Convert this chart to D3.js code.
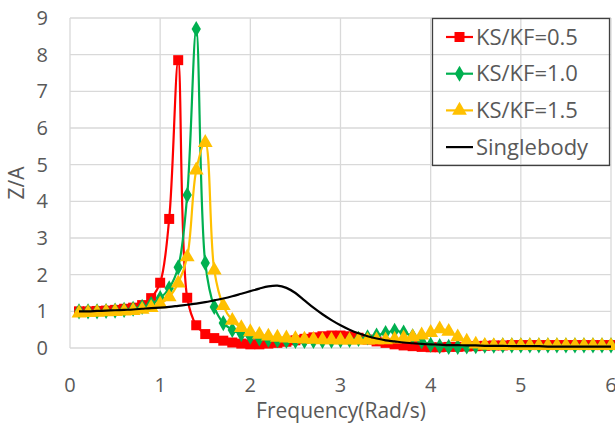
<!DOCTYPE html>
<html>
<head>
<meta charset="utf-8">
<script src="https://cdn.jsdelivr.net/npm/d3@7"></script>
<style>
  body { margin: 0; background: #fff; }
  text { font-family: "Open Sans", sans-serif; fill: #595959; }
</style>
</head>
<body>
<div id="chart"></div>
<script>
// frequencies 0.1 .. 6.0, step 0.1
const freq = d3.range(1, 61).map(d => d / 10)

const ks05 = [1.0, 1.0, 1.01, 1.02, 1.04, 1.07, 1.1, 1.17, 1.36, 1.78,
              3.52, 7.85, 1.37, 0.62, 0.38, 0.27, 0.2, 0.15, 0.12, 0.1,
              0.1, 0.12, 0.14, 0.17, 0.21, 0.25, 0.29, 0.32, 0.34, 0.34,
              0.32, 0.28, 0.23, 0.18, 0.14, 0.1, 0.07, 0.05, 0.03, 0.02,
              0.02, 0.03, 0.03, 0.04, 0.05, 0.06, 0.07, 0.07, 0.08, 0.08,
              0.08, 0.08, 0.08, 0.08, 0.08, 0.08, 0.08, 0.08, 0.08, 0.08]

const ks10 = [1.0, 1.0, 1.0, 1.01, 1.02, 1.04, 1.07, 1.12, 1.2, 1.36,
              1.63, 2.2, 4.17, 8.7, 2.32, 1.12, 0.68, 0.49, 0.38, 0.31,
              0.26, 0.23, 0.21, 0.2, 0.19, 0.19, 0.19, 0.19, 0.2, 0.21,
              0.22, 0.25, 0.29, 0.34, 0.41, 0.47, 0.42, 0.32, 0.18, 0.09,
              0.05, 0.03, 0.03, 0.04, 0.05, 0.06, 0.06, 0.07, 0.07, 0.07,
              0.07, 0.07, 0.07, 0.07, 0.07, 0.07, 0.07, 0.07, 0.07, 0.07]

const ks15 = [0.95, 0.96, 0.97, 0.98, 0.99, 1.0, 1.02, 1.05, 1.1, 1.2,
              1.39, 1.77, 2.48, 4.85, 5.6, 2.12, 1.15, 0.75, 0.55, 0.44,
              0.37, 0.32, 0.29, 0.27, 0.25, 0.24, 0.23, 0.22, 0.22, 0.21,
              0.21, 0.21, 0.21, 0.22, 0.22, 0.24, 0.27, 0.3, 0.35, 0.42,
              0.52, 0.45, 0.3, 0.18, 0.1, 0.07, 0.06, 0.06, 0.06, 0.06,
              0.06, 0.06, 0.06, 0.06, 0.06, 0.06, 0.06, 0.06, 0.06, 0.06]

const single = [1.0, 1.0, 1.01, 1.02, 1.03, 1.04, 1.05, 1.07, 1.09, 1.1,
                1.12, 1.15, 1.18, 1.21, 1.25, 1.3, 1.35, 1.41, 1.48, 1.55,
                1.62, 1.68, 1.7, 1.64, 1.5, 1.3, 1.1, 0.92, 0.76, 0.62,
                0.5, 0.4, 0.32, 0.26, 0.21, 0.18, 0.15, 0.13, 0.11, 0.1,
                0.09, 0.08, 0.08, 0.07, 0.07, 0.06, 0.06, 0.06, 0.05, 0.05,
                0.05, 0.05, 0.04, 0.04, 0.04, 0.04, 0.04, 0.04, 0.04, 0.04]

const xTicks = [0, 1, 2, 3, 4, 5, 6]
const yTicks = [0, 1, 2, 3, 4, 5, 6, 7, 8, 9]

const series = [
  {name: "KS/KF=0.5", values: ks05, color: "#ff0000", symbol: d3.symbolSquare, size: 100},
  {name: "KS/KF=1.0", values: ks10, color: "#00b050", symbol: d3.symbolDiamond, size: 75},
  {name: "KS/KF=1.5", values: ks15, color: "#ffc000", symbol: d3.symbolTriangle, size: 95},
  {name: "Singlebody", values: single, color: "#000000", symbol: null}
]

const W = 615, H = 427
const svg = d3.select("#chart").append("svg").attr("width", W).attr("height", H)

const x = d3.scaleLinear().domain([0, 6]).range([70, 611])
const y = d3.scaleLinear().domain([0, 9]).range([348, 18])

// gridlines
svg.append("g").selectAll("line").data(yTicks).join("line")
  .attr("x1", x(0)).attr("x2", x(6))
  .attr("y1", d => y(d)).attr("y2", d => y(d))
  .attr("stroke", "#d9d9d9").attr("stroke-width", 1.3)
svg.append("g").selectAll("line").data(xTicks).join("line")
  .attr("x1", d => x(d)).attr("x2", d => x(d))
  .attr("y1", y(0)).attr("y2", y(9))
  .attr("stroke", "#d9d9d9").attr("stroke-width", 1.3)

// tick labels
svg.append("g").selectAll("text").data(yTicks).join("text")
  .attr("x", 48).attr("y", d => y(d)).attr("dy", "0.35em")
  .attr("text-anchor", "end").attr("font-size", 20)
  .text(d => d)
svg.append("g").selectAll("text").data(xTicks).join("text")
  .attr("x", d => x(d)).attr("y", 385).attr("dy", "0.35em")
  .attr("text-anchor", "middle").attr("font-size", 20)
  .text(d => d)

svg.append("text")
  .attr("x", 341).attr("y", 411).attr("dy", "0.35em")
  .attr("text-anchor", "middle").attr("font-size", 21)
  .text("Frequency(Rad/s)")
svg.append("text")
  .attr("transform", "translate(17," + y(4.5) + ") rotate(-90)")
  .attr("dy", "0.35em")
  .attr("text-anchor", "middle").attr("font-size", 21)
  .text("Z/A")

const line = d3.line()
  .x((d, i) => x(freq[i]))
  .y(d => y(d))
  .curve(d3.curveCatmullRom.alpha(0.5))

series.forEach(s => {
  const g = svg.append("g")
  g.append("path")
    .attr("d", line(s.values))
    .attr("fill", "none")
    .attr("stroke", s.color)
    .attr("stroke-width", 2.2)
  if (s.symbol) {
    g.selectAll("path.m").data(s.values).join("path")
      .attr("class", "m")
      .attr("transform", (d, i) => "translate(" + x(freq[i]) + "," + y(d) + ")")
      .attr("d", d3.symbol().type(s.symbol).size(s.size))
      .attr("fill", s.color)
  }
})

// legend
const lg = svg.append("g")
lg.append("rect")
  .attr("x", 432.5).attr("y", 18.5).attr("width", 177).attr("height", 147)
  .attr("fill", "none").attr("stroke", "#404040").attr("stroke-width", 1.3)

series.forEach((s, i) => {
  const cy = 37 + i * 36.7
  lg.append("line")
    .attr("x1", 446).attr("x2", 473).attr("y1", cy).attr("y2", cy)
    .attr("stroke", s.color).attr("stroke-width", 2.2)
  if (s.symbol) {
    lg.append("path")
      .attr("transform", "translate(459.5," + cy + ")")
      .attr("d", d3.symbol().type(s.symbol).size(s.size))
      .attr("fill", s.color)
  }
  lg.append("text")
    .attr("x", 476).attr("y", cy).attr("dy", "0.35em")
    .attr("font-size", 22)
    .text(s.name)
})
</script>
</body>
</html>
